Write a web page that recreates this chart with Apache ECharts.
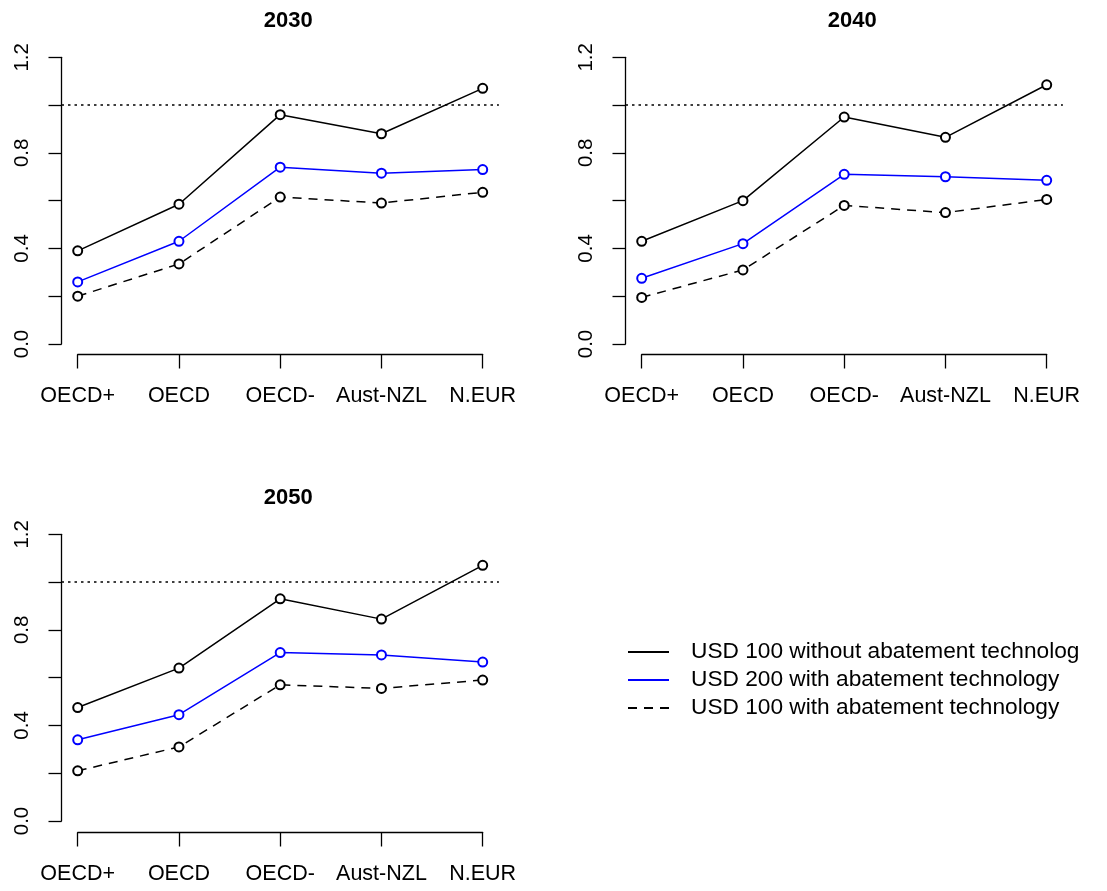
<!DOCTYPE html>
<html>
<head>
<meta charset="utf-8">
<script src="https://cdn.jsdelivr.net/npm/echarts@6/dist/echarts.min.js"></script>
<style>
  html, body { margin: 0; padding: 0; background: #ffffff; }
  #chart { width: 1107px; height: 891px; }
</style>
</head>
<body>
<div id="chart"></div>
<script>
// Regions on the horizontal axis
const regions = ['OECD+', 'OECD', 'OECD-', 'Aust-NZL', 'N.EUR'];
const years = ['2030', '2040', '2050'];
const seriesNames = [
  'USD 100 without abatement technology',
  'USD 200 with abatement technology',
  'USD 100 with abatement technology'
];

// Ratios by region, one array per scenario and year
const noAbate100_2030 = [0.39, 0.585, 0.96, 0.88, 1.07];
const abate200_2030   = [0.26, 0.43, 0.74, 0.715, 0.73];
const abate100_2030   = [0.20, 0.335, 0.615, 0.59, 0.635];

const noAbate100_2040 = [0.43, 0.60, 0.95, 0.865, 1.085];
const abate200_2040   = [0.275, 0.42, 0.71, 0.70, 0.685];
const abate100_2040   = [0.195, 0.31, 0.58, 0.55, 0.605];

const noAbate100_2050 = [0.475, 0.64, 0.93, 0.845, 1.07];
const abate200_2050   = [0.34, 0.445, 0.705, 0.695, 0.665];
const abate100_2050   = [0.21, 0.31, 0.57, 0.555, 0.59];

// Labelled ticks on the vertical axis (minor ticks every 0.2 are unlabelled)
const yTickLabels = ['0.0', '0.4', '0.8', '1.2'];
const referenceLevel = 1.0;

const panelValues = [
  [noAbate100_2030, abate200_2030, abate100_2030],
  [noAbate100_2040, abate200_2040, abate100_2040],
  [noAbate100_2050, abate200_2050, abate100_2050]
];

// Panel placement (pixels)
const step = 101.25;                 // distance between regions
const plotH = 286.7;                 // height of the 0 .. 1.2 range
const panels = [
  { left: 61.5,  top: 57.3,  axisY: 354.5 },
  { left: 625.5, top: 57.3,  axisY: 354.5 },
  { left: 61.5,  top: 534.3, axisY: 832.5 }
];

const FONT = 'Liberation Sans, Arial, Helvetica, sans-serif';
const styles = [
  { color: '#000000', type: 'solid' },
  { color: '#0000ff', type: 'solid' },
  { color: '#000000', type: [9, 7] }
];

const grid = [], xAxis = [], yAxis = [], series = [], title = [];

panels.forEach((p, k) => {
  const pad = 0.16 * step;
  // plotting area
  grid.push({ left: p.left, top: p.top, width: 4 * step + 2 * pad, height: plotH, containLabel: false });
  xAxis.push({ gridIndex: k, type: 'value', min: 0.84, max: 5.16, show: false });
  yAxis.push({
    gridIndex: k, type: 'value', min: 0, max: 1.2, interval: 0.2,
    axisLine: { show: true, lineStyle: { color: '#000', width: 1.3 } },
    axisTick: { show: true, length: 13, lineStyle: { color: '#000', width: 1.3 } },
    splitLine: { show: false },
    axisLabel: {
      rotate: 90, margin: 29, color: '#000', fontFamily: FONT, fontSize: 20.5,
      formatter: v => { const s = v.toFixed(1); return yTickLabels.includes(s) ? s : ''; }
    }
  });
  title.push({
    text: years[k], left: p.left + 2 * step + pad + 8, top: p.top - 47, textAlign: 'center', padding: 0,
    textStyle: { fontFamily: FONT, fontSize: 22, fontWeight: 'bold', color: '#000' }
  });
});

panels.forEach((p, k) => {
  // separate strip carrying the region axis, spanning first to last region
  grid.push({ left: p.left + 0.16 * step, top: p.axisY - 40, width: 4 * step, height: 40 });
  xAxis.push({
    gridIndex: 3 + k, type: 'category', boundaryGap: false, data: regions, position: 'bottom',
    axisLine: { show: true, lineStyle: { color: '#000', width: 1.3 } },
    axisTick: { show: true, length: 14, alignWithLabel: true, lineStyle: { color: '#000', width: 1.3 } },
    axisLabel: { margin: 31, color: '#000', fontFamily: FONT, fontSize: 21.5, interval: 0 },
    splitLine: { show: false }
  });
  yAxis.push({ gridIndex: 3 + k, type: 'value', show: false });
});

panelValues.forEach((vals, k) => {
  vals.forEach((arr, s) => {
    const item = {
      name: seriesNames[s], type: 'line', xAxisIndex: k, yAxisIndex: k,
      data: arr.map((v, i) => [i + 1, v]),
      symbol: 'emptyCircle', symbolSize: 9,
      lineStyle: { color: styles[s].color, width: 1.5, type: styles[s].type },
      itemStyle: { color: styles[s].color, borderColor: styles[s].color, borderWidth: 1.3 },
      emphasis: { disabled: true }, animation: false, z: 3
    };
    if (s === 0) {
      item.markLine = {
        silent: true, symbol: ['none', 'none'], label: { show: false },
        lineStyle: { color: '#000', width: 1.6, type: [2.5, 4] },
        emphasis: { disabled: true },
        data: [{ yAxis: referenceLevel }]
      };
    }
    series.push(item);
  });
});

const chart = echarts.init(document.getElementById('chart'), null, { renderer: 'canvas' });
chart.setOption({
  backgroundColor: '#ffffff',
  animation: false,
  title,
  grid, xAxis, yAxis, series,
  legend: {
    data: seriesNames, orient: 'vertical', left: 622, top: 633,
    itemWidth: 41, itemHeight: 14, itemGap: 0, selectedMode: false,
    itemStyle: { opacity: 0 },
    textStyle: {
      fontFamily: FONT, fontSize: 22.7, color: '#000', lineHeight: 28,
      padding: [0, 0, 0, 17], width: 393, overflow: 'truncate', ellipsis: ''
    }
  }
});
</script>
</body>
</html>
